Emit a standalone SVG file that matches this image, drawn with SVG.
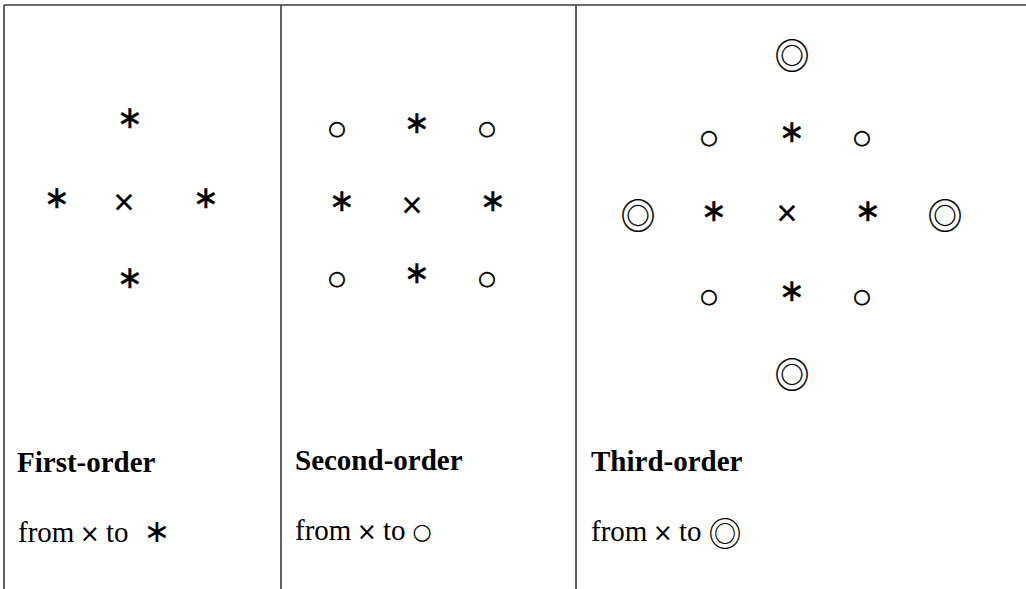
<svg xmlns="http://www.w3.org/2000/svg" width="1026" height="589" viewBox="0 0 1026 589">
<style>
.frame{stroke:#3a3a3a;stroke-width:1.6;fill:none}
.sym{font-family:"DejaVu Sans",sans-serif;fill:#000;text-anchor:middle;dominant-baseline:central}
.ast{font-size:31px;stroke:#000;stroke-width:0.4}
.x{font-size:28px;stroke:#000;stroke-width:0.4}
.o{font-size:20px;stroke:#000;stroke-width:0.6}
.oo{font-family:"Noto Sans CJK JP",sans-serif;font-size:35px;stroke:#000;stroke-width:0.2}
.title{font-family:"Liberation Serif","Times New Roman",serif;font-weight:bold;font-size:29px;fill:#000}
.sub{font-family:"Liberation Serif","Times New Roman",serif;font-size:29px;fill:#000}
.mx{font-family:"DejaVu Sans",sans-serif;font-size:24px;letter-spacing:-4px}
.subsym{font-family:"DejaVu Sans",sans-serif;text-anchor:middle}
.subcjk{font-family:"Noto Sans CJK JP",sans-serif;text-anchor:middle}
</style>
<rect width="1026" height="589" fill="#fff"/>
<g id="frame" class="frame">
<line x1="4" y1="5" x2="1026" y2="5"/>
<line x1="4" y1="5" x2="4" y2="589"/>
<line x1="281" y1="5" x2="281" y2="589"/>
<line x1="576" y1="5" x2="576" y2="589"/>
</g>
<g id="connectors"/>
<g id="first-order">
<text class="sym ast" x="130" y="117">∗</text>
<text class="sym ast" x="57" y="197">∗</text>
<text class="sym ast" x="206" y="197">∗</text>
<text class="sym ast" x="130" y="277">∗</text>
<text class="sym x" x="124" y="201">×</text>
<text class="title" x="17" y="472">First-order</text>
<text class="sub" x="18" y="542">from <tspan class="mx" dx="-2">×</tspan><tspan dx="3"> to </tspan><tspan class="subsym" x="157" font-size="32">∗</tspan></text>
</g>
<g id="second-order">
<text class="sym o" x="337" y="128">○</text>
<text class="sym o" x="487" y="128">○</text>
<text class="sym o" x="337" y="278">○</text>
<text class="sym o" x="487" y="278">○</text>
<text class="sym ast" x="417" y="122">∗</text>
<text class="sym ast" x="342" y="200">∗</text>
<text class="sym ast" x="493" y="200">∗</text>
<text class="sym ast" x="417" y="272">∗</text>
<text class="sym x" x="412" y="204">×</text>
<text class="title" x="295" y="470">Second-order</text>
<text class="sub" x="295" y="540">from <tspan class="mx" dx="-2">×</tspan><tspan dx="3"> to </tspan><tspan class="subsym" x="422" dy="-1" font-size="22">○</tspan></text>
</g>
<g id="third-order">
<text class="sym oo" x="792" y="53">◎</text>
<text class="sym oo" x="638" y="213">◎</text>
<text class="sym oo" x="945" y="213">◎</text>
<text class="sym oo" x="792" y="372">◎</text>
<text class="sym o" x="709" y="137">○</text>
<text class="sym o" x="862" y="137">○</text>
<text class="sym o" x="709" y="296">○</text>
<text class="sym o" x="862" y="296">○</text>
<text class="sym ast" x="792" y="131">∗</text>
<text class="sym ast" x="714" y="210">∗</text>
<text class="sym ast" x="868" y="210">∗</text>
<text class="sym ast" x="792" y="290">∗</text>
<text class="sym x" x="787" y="212">×</text>
<text class="title" x="591" y="471">Third-order</text>
<text class="sub" x="591" y="541">from <tspan class="mx" dx="-2">×</tspan><tspan dx="3"> to </tspan><tspan class="subcjk" x="725" dy="5" font-size="33">◎</tspan></text>
</g>
</svg>
